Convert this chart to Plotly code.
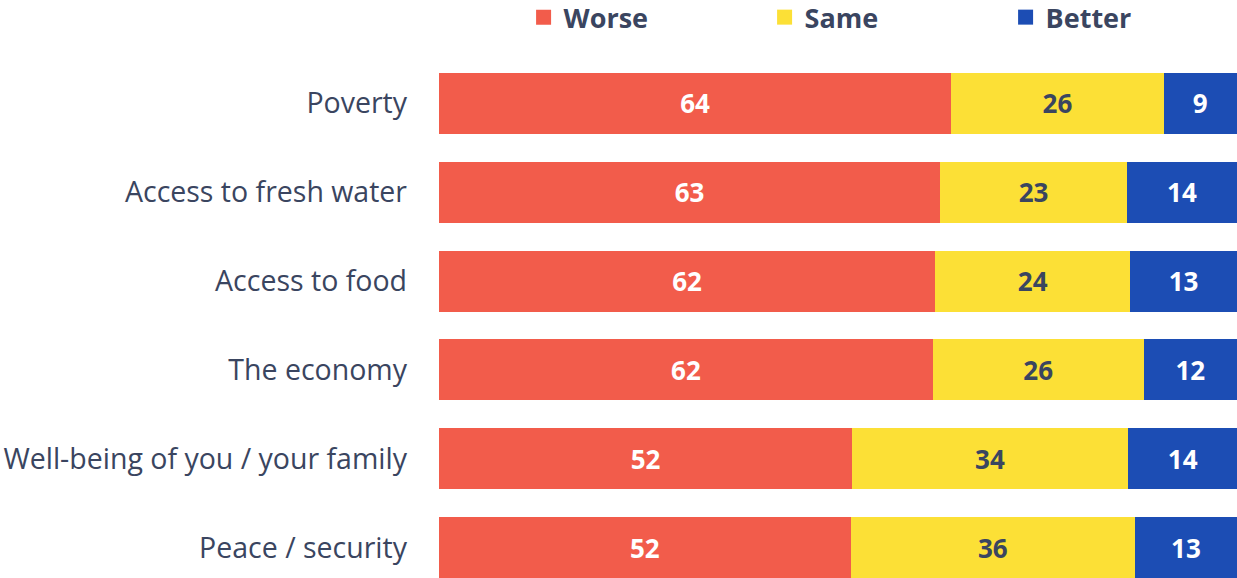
import plotly.graph_objects as go

categories = ["Poverty", "Access to fresh water", "Access to food", "The economy",
              "Well-being of you / your family", "Peace / security"]
worse = [64.2, 62.8, 62.2, 61.9, 51.8, 51.6]
same = [26.6, 23.4, 24.4, 26.4, 34.5, 35.6]
better = [9.2, 13.8, 13.4, 11.7, 13.8, 12.8]
worse_lbl = [64, 63, 62, 62, 52, 52]
same_lbl = [26, 23, 24, 26, 34, 36]
better_lbl = [9, 14, 13, 12, 14, 13]

TXT = "#3a4560"
FONT = "Open Sans"

fig = go.Figure()
series = [
    ("Worse", worse, worse_lbl, "#f25c4b", "white"),
    ("Same", same, same_lbl, "#fce036", TXT),
    ("Better", better, better_lbl, "#1c4db4", "white"),
]
for name, vals, lbls, col, tcol in series:
    fig.add_trace(go.Bar(
        name=name, y=categories, x=vals, orientation="h",
        marker=dict(color=col, line=dict(width=0)),
        text=[str(v) for v in lbls], textposition="inside", insidetextanchor="middle",
        textfont=dict(color=tcol, size=26, family=FONT, weight="bold"),
        textangle=0, hoverinfo="skip", showlegend=False,
    ))
# legend proxies with larger square swatches
for name, _, _, col, _ in series:
    fig.add_trace(go.Scatter(
        name=name, x=[None], y=[None], mode="markers",
        marker=dict(symbol="square", size=15, color=col), hoverinfo="skip",
    ))

fig.update_layout(
    barmode="stack", bargap=0.313,
    width=1237, height=578,
    margin=dict(l=439, r=0, t=59, b=0, autoexpand=False),
    paper_bgcolor="white", plot_bgcolor="white",
    font=dict(family=FONT, color=TXT),
    uniformtext=dict(minsize=10, mode="show"),
    legend=dict(orientation="h", traceorder="normal", x=0.106, xanchor="left",
                y=1.127, yanchor="top", itemsizing="trace",
                font=dict(size=27, family=FONT, color=TXT, weight="bold"),
                entrywidth=196, entrywidthmode="pixels", itemclick=False),
    xaxis=dict(range=[0, 100], visible=False, fixedrange=True),
    yaxis=dict(categoryorder="array", categoryarray=categories,
               range=[5.343, -0.5], showgrid=False, zeroline=False, showline=False,
               ticks="", ticklabelstandoff=31,
               tickfont=dict(size=28.5, family=FONT, color=TXT)),
)
fig.write_html("out.html", config={"displayModeBar": False},
               post_script="document.body.style.margin='0';")
